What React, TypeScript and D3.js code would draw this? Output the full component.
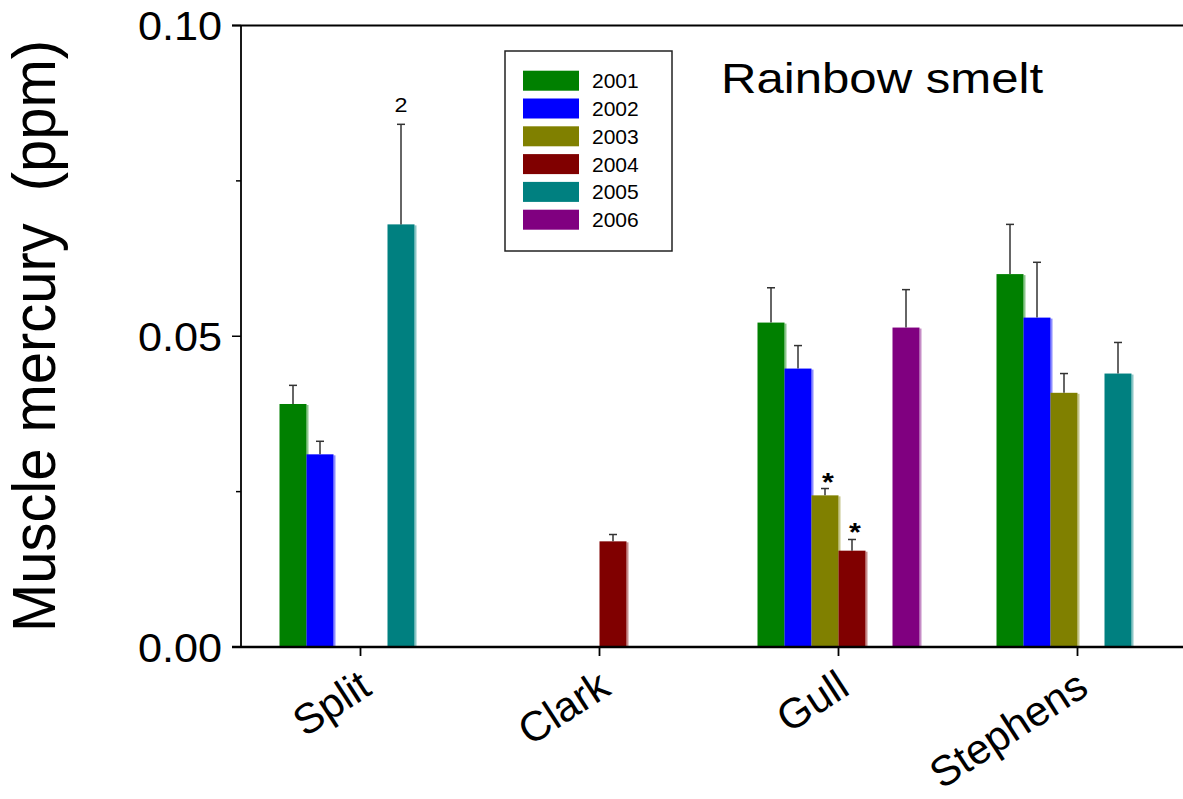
import React from "react";
import * as d3 from "d3";

const sites = ["Split", "Clark", "Gull", "Stephens"];
const years = ["2001", "2002", "2003", "2004", "2005", "2006"];
const yearColors = ["#008000", "#0000ff", "#808000", "#800000", "#008080", "#800080"];

// mean muscle mercury (ppm) per site, one array per year (null = not sampled)
const mean2001 = [0.0391, null, 0.0522, 0.06];
const mean2002 = [0.031, null, 0.0448, 0.053];
const mean2003 = [null, null, 0.0244, 0.0409];
const mean2004 = [null, 0.017, 0.0155, null];
const mean2005 = [0.068, null, null, 0.044];
const mean2006 = [null, null, 0.0514, null];

// upper error bar ends
const err2001 = [0.0421, null, 0.0578, 0.068];
const err2002 = [0.0331, null, 0.0485, 0.0619];
const err2003 = [null, null, 0.0255, 0.044];
const err2004 = [null, 0.0181, 0.0173, null];
const err2005 = [0.0841, null, null, 0.049];
const err2006 = [null, null, 0.0575, null];

const yTicks = [0, 0.05, 0.1];
const yMinorTicks = [0.025, 0.075];

// annotations: [site, year, text]
const notes: [string, string, string][] = [
  ["Split", "2005", "2"],
  ["Gull", "2003", "*"],
  ["Gull", "2004", "*"],
];

const means = [mean2001, mean2002, mean2003, mean2004, mean2005, mean2006];
const errs = [err2001, err2002, err2003, err2004, err2005, err2006];

const W = 1183;
const H = 799;
const FONT = "'Liberation Sans', Arial, sans-serif";
const SX = 1.17; // some text in the original is stretched sideways

export default function App() {
  const x = d3.scaleBand<string>().domain(sites).range([241, 1197]).padding(0);
  const inner = d3.scaleBand<string>().domain(years).range([-81, 81]).padding(0);
  const y = d3.scaleLinear().domain([0, 0.1]).range([647, 25.5]);
  const cx = (s: string) => (x(s) as number) + x.bandwidth() / 2;

  const bars: any[] = [];
  years.forEach((yr, i) => {
    sites.forEach((s, j) => {
      const v = means[i][j];
      if (v == null) return;
      bars.push({ site: s, year: yr, v, e: errs[i][j], color: yearColors[i] });
    });
  });

  const findBar = (s: string, yr: string) => bars.find((b) => b.site === s && b.year === yr);

  return (
    <svg width={W} height={H} style={{ position: "absolute", left: 0, top: 0, background: "#fff" }} fontFamily={FONT}>
      {/* bars */}
      {bars.map((b, k) => {
        const bx = cx(b.site) + (inner(b.year) as number);
        const bw = inner.bandwidth();
        const top = y(b.v);
        const light = d3.interpolateRgb(b.color, "#ffffff")(0.55);
        return (
          <g key={k}>
            <rect x={bx + bw} y={top + 1} width={2} height={647 - top - 1} fill={light} />
            <rect x={bx} y={top} width={bw} height={647 - top} fill={b.color} />
            {b.e != null && (
              <g stroke="#333" strokeWidth={1.5}>
                <line x1={bx + bw / 2} x2={bx + bw / 2} y1={top} y2={y(b.e)} />
                <line x1={bx + bw / 2 - 4} x2={bx + bw / 2 + 4} y1={y(b.e)} y2={y(b.e)} />
              </g>
            )}
          </g>
        );
      })}

      {/* annotations */}
      {notes.map(([s, yr, t], k) => {
        const b = findBar(s, yr);
        const bx = cx(s) + (inner(yr) as number) + inner.bandwidth() / 2;
        const star = t === "*";
        const ty = star ? y(b.e) + 2 : y(b.e) - 12;
        return (
          <text
            key={k}
            transform={`translate(${star ? bx + 3 : bx},${ty}) scale(${SX},1)`}
            textAnchor="middle"
            fontSize={star ? 26 : 20}
            fontWeight={star ? "bold" : "normal"}
          >
            {t}
          </text>
        );
      })}

      {/* frame */}
      <line x1={232} x2={W} y1={25.5} y2={25.5} stroke="#000" strokeWidth={2} />
      <line x1={232} x2={W} y1={647} y2={647} stroke="#000" strokeWidth={2.5} />
      <line x1={241} x2={241} y1={25.5} y2={647} stroke="#000" strokeWidth={1.8} />

      {/* y ticks */}
      {yTicks.map((t) => (
        <g key={t}>
          <line x1={232} x2={241} y1={y(t)} y2={y(t)} stroke="#000" strokeWidth={1.5} />
          <text transform={`translate(222,${y(t) + 14.5}) scale(1.08,1)`} textAnchor="end" fontSize={40}>
            {d3.format(".2f")(t)}
          </text>
        </g>
      ))}
      {yMinorTicks.map((t) => (
        <line key={t} x1={236} x2={241} y1={y(t)} y2={y(t)} stroke="#000" strokeWidth={1.5} />
      ))}

      {/* x ticks */}
      {sites.map((s) => (
        <g key={s}>
          <line x1={cx(s)} x2={cx(s)} y1={647} y2={656} stroke="#000" strokeWidth={1.8} />
          <text
            transform={`translate(${cx(s) + 13},693) rotate(-33)`}
            textAnchor="end"
            fontSize={42}
          >
            {s}
          </text>
        </g>
      ))}

      {/* y axis title */}
      <text
        transform={`translate(55,336) scale(${SX},1) rotate(-90)`}
        textAnchor="middle"
        fontSize={52}
        textLength={592}
        lengthAdjust="spacingAndGlyphs"
        style={{ whiteSpace: "pre" }}
      >
        {"Muscle mercury  (ppm)"}
      </text>

      {/* panel title */}
      <text transform={`translate(721,93) scale(${SX},1)`} fontSize={42}>
        Rainbow smelt
      </text>

      {/* legend */}
      <rect x={505} y={51} width={167} height={200} fill="none" stroke="#222" strokeWidth={1.5} />
      {years.map((yr, i) => {
        const ry = 80.7 + i * 27.8;
        return (
          <g key={yr}>
            <rect x={523} y={ry - 10} width={56} height={20} fill={yearColors[i]} />
            <text transform={`translate(592,${ry + 7.5})`} fontSize={21}>
              {yr}
            </text>
          </g>
        );
      })}
    </svg>
  );
}
